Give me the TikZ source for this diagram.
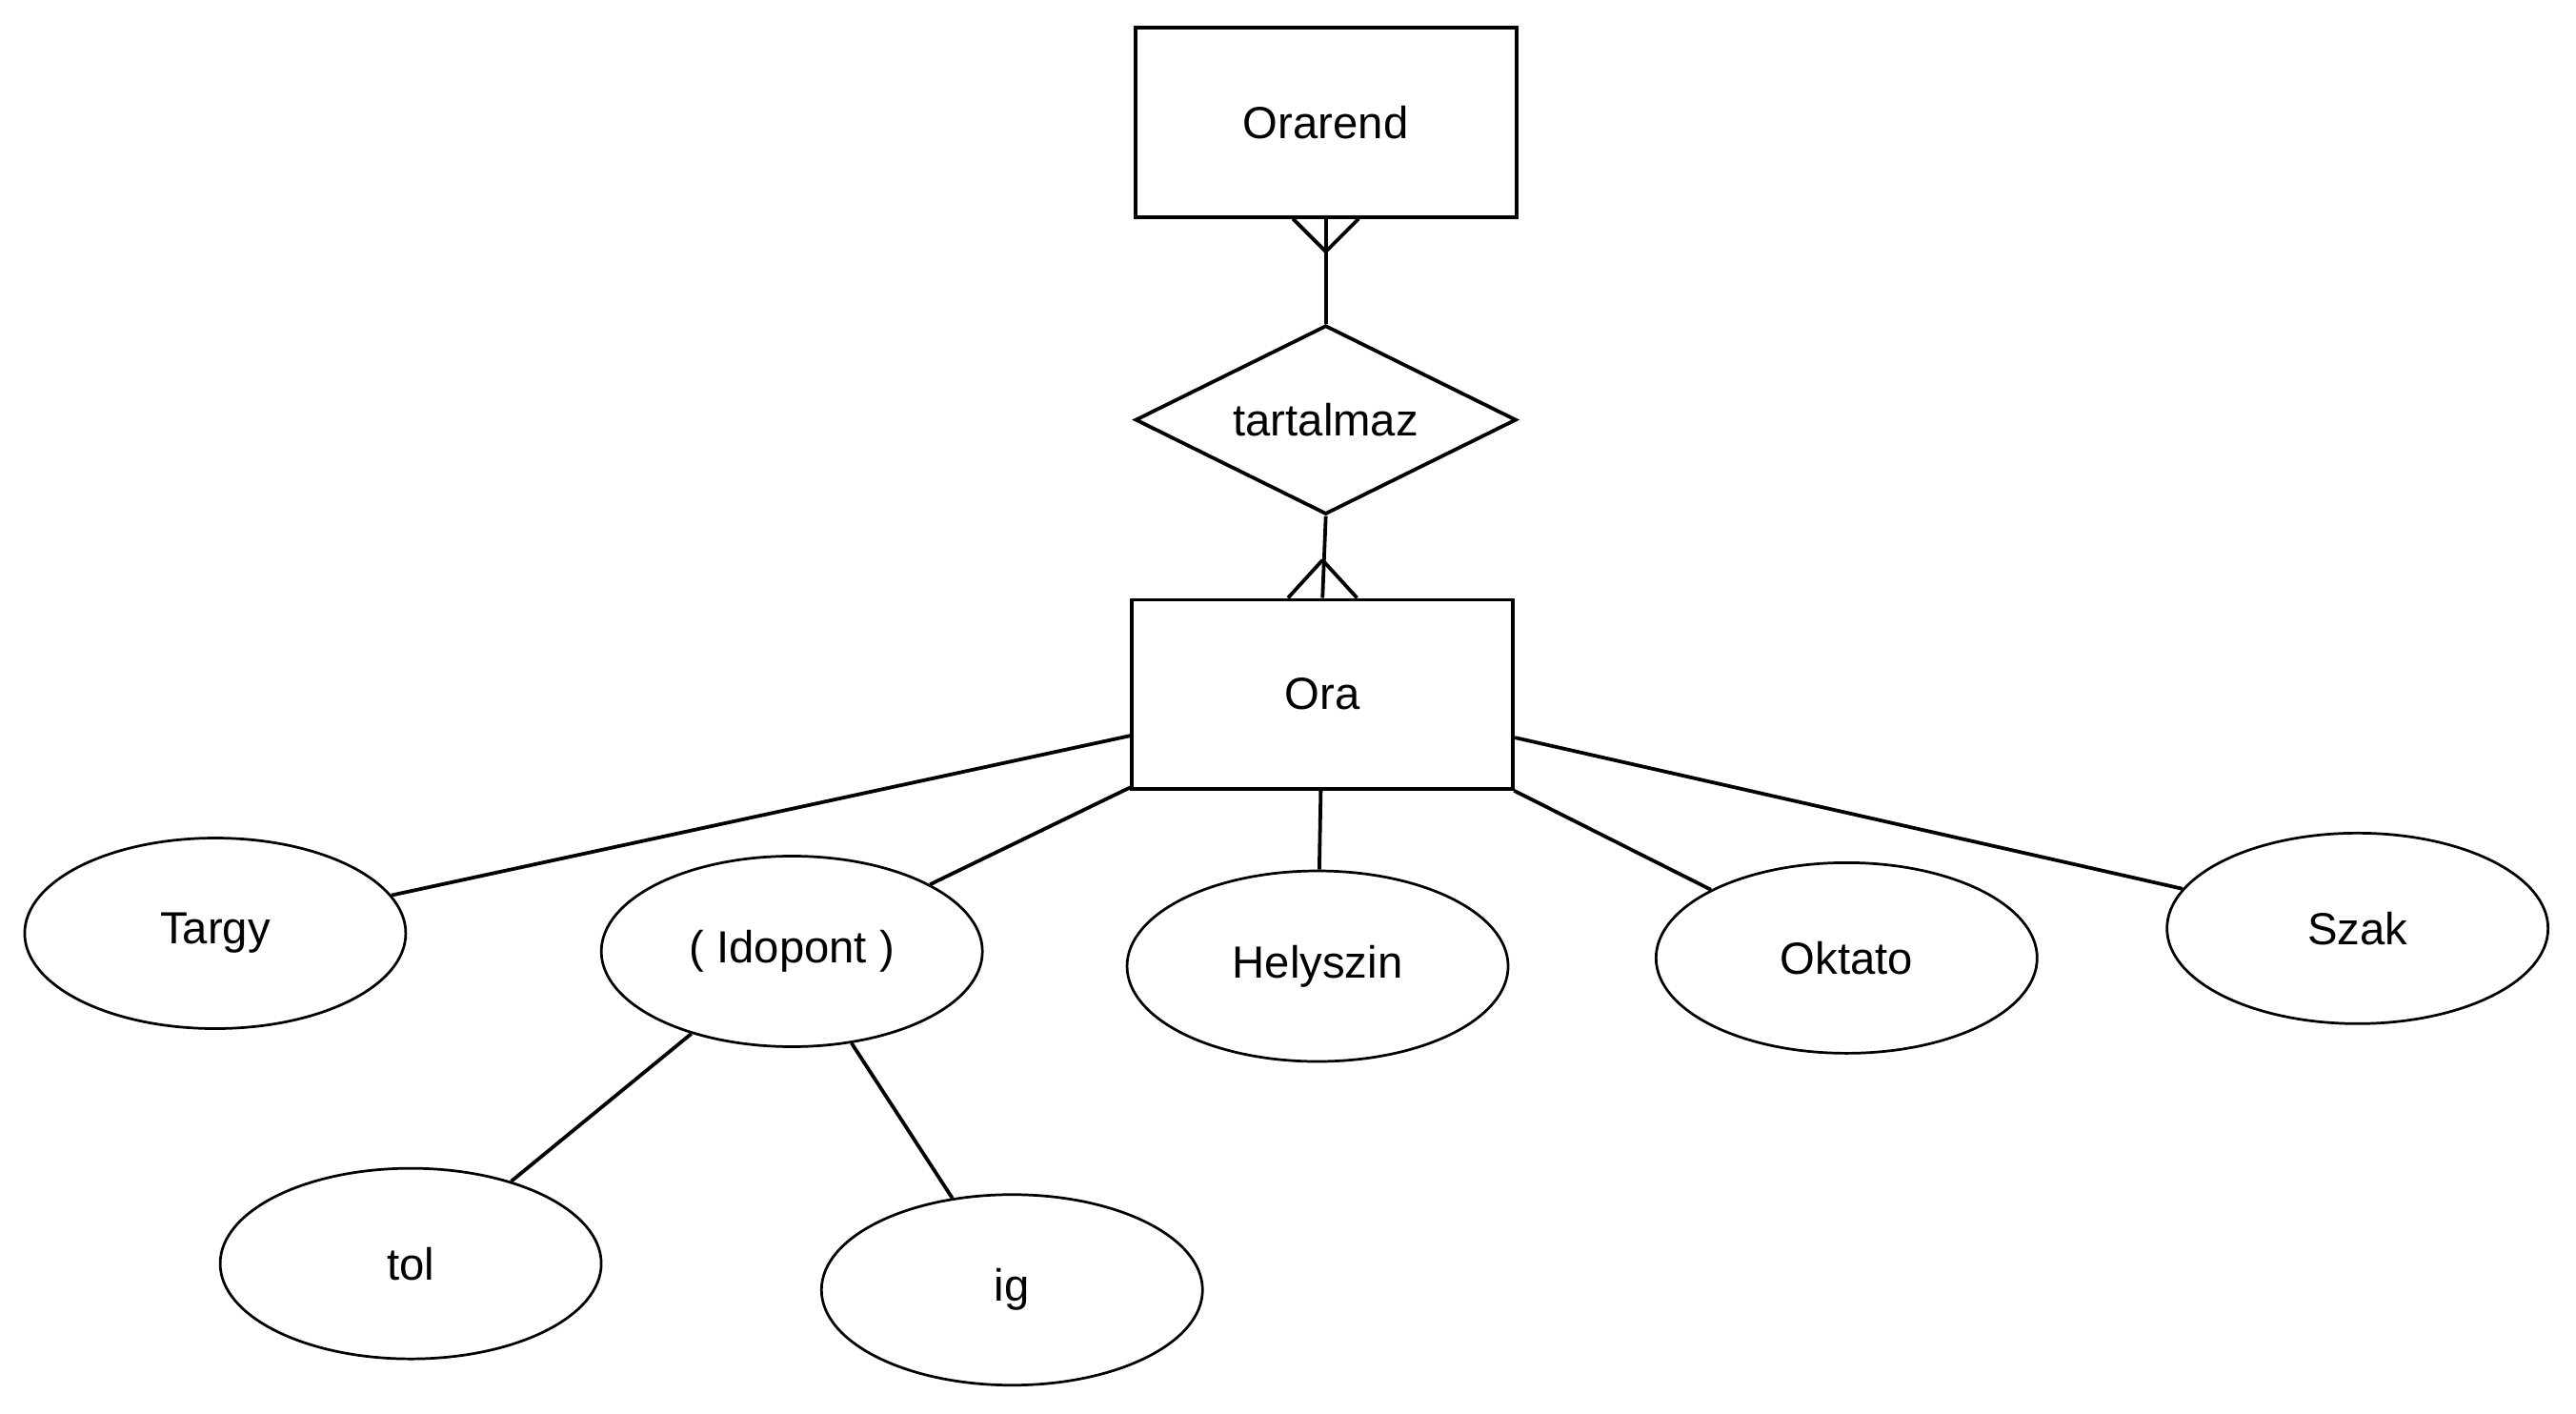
\documentclass[tikz,border=0pt]{standalone}
\usepackage{fontspec}
\setmainfont{Liberation Sans}
\usetikzlibrary{shapes.geometric}

\begin{document}
\begin{tikzpicture}[x=0.02cm, y=-0.02cm, font=\fontsize{15.6pt}{18pt}\selectfont, line width=1.25pt,
	entity/.style={draw, line width=1.3pt, minimum width=4.64cm, minimum height=2.3cm, inner sep=0pt},
	relation/.style={draw, diamond, aspect=2, line width=1.25pt, minimum width=4.64cm, minimum height=2.3cm, inner sep=0pt},
	attrib/.style={draw, ellipse, line width=0.9pt, minimum width=4.64cm, minimum height=2.32cm, inner sep=0pt}]
		\useasboundingbox (0,0) rectangle (1568,860.5);
		
		\node[entity](orarend) at (807, 74.5) {Orarend};
		\node[relation](tartalmaz) at (807, 255.5) {tartalmaz};
		\node[entity](ora) at (805, 422.5) {Ora};
		
		\node[attrib](targy) at (131, 568) {Targy};
		\node[attrib](idopont) at (482, 579) {( Idopont )};
		\node[attrib](helyszin) at (802, 588) {Helyszin};
		\node[attrib](oktato) at (1124, 583) {Oktato};
		\node[attrib](szak) at (1435, 565) {Szak};
		\node[attrib](tol) at (250, 769) {tol};
		\node[attrib](ig) at (616, 785) {ig};
		
		% kapcsolat
		\draw[-] (orarend.south) to (tartalmaz.north);
		\draw[-] ([xshift=-0.4cm]orarend.south) to ([yshift=-0.4cm]orarend.south);
		\draw[-] ([xshift=0.4cm]orarend.south) to ([yshift=-0.4cm]orarend.south);
		
		\draw[-] (tartalmaz.south) to (ora.north);
		\draw[-] ([xshift=-0.42cm]ora.north) to ([yshift=0.46cm]ora.north);
		\draw[-] ([xshift=0.42cm]ora.north) to ([yshift=0.46cm]ora.north);
		
		% attributumok
		\draw[-] (ora) to (targy);
		\draw[-] (ora) to (idopont);
		\draw[-] (ora) to (helyszin);
		\draw[-] (ora) to (oktato);
		\draw[-] (ora) to (szak);
		\draw[-] (idopont) to (tol);
		\draw[-] (idopont) to (ig);
	\end{tikzpicture}
\end{document}
